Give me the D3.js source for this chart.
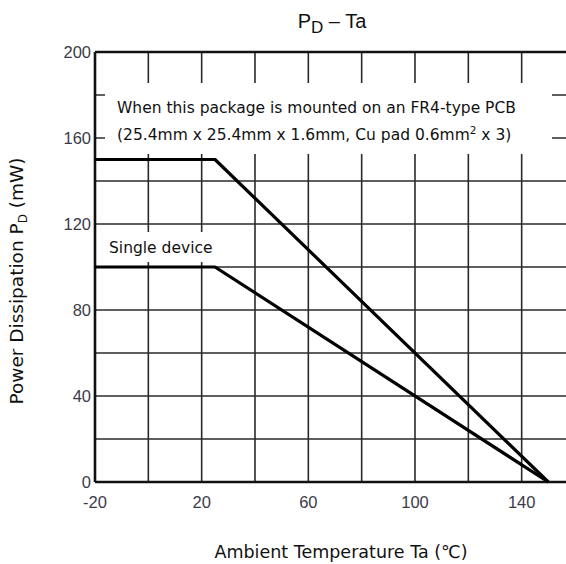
<!DOCTYPE html>
<html>
<head>
<meta charset="utf-8">
<script src="https://cdn.jsdelivr.net/npm/d3@7"></script>
<style>
  html, body { margin: 0; padding: 0; background: #fff; }
  svg { display: block; }
</style>
</head>
<body>
<svg id="chart" width="566" height="564"></svg>
<script>
// ---- data ----
const temps = [-20, 25, 150];
const pcbPower = [150, 150, 0];
const singlePower = [100, 100, 0];
const xTickLabels = [-20, 20, 60, 100, 140];
const yTickLabels = [0, 40, 80, 120, 160, 200];
const xGrid = [-20, 0, 20, 40, 60, 80, 100, 120, 140, 160];
const yGrid = [0, 20, 40, 60, 80, 100, 120, 140, 160, 180, 200];
const titleMain = "P";
const titleSub = "D";
const titleRest = " \u2013 Ta";
const pcbNote = ["When this package is mounted on an FR4-type PCB", "(25.4mm x 25.4mm x 1.6mm, Cu pad 0.6mm", "2", " x 3)"];
const singleNote = "Single device";

const svg = d3.select("#chart");
const x = d3.scaleLinear().domain([-20, 160]).range([95, 575]);
const y = d3.scaleLinear().domain([0, 200]).range([482, 52]);

// grid
const g = svg.append("g");
g.selectAll(".vg").data(xGrid).join("line")
  .attr("x1", d => x(d)).attr("x2", d => x(d))
  .attr("y1", y(0)).attr("y2", y(200))
  .attr("stroke", "#2a2a2a").attr("stroke-width", 1.6);
g.selectAll(".hg").data(yGrid).join("line")
  .attr("x1", x(-20)).attr("x2", 575)
  .attr("y1", d => y(d)).attr("y2", d => y(d))
  .attr("stroke", "#2a2a2a").attr("stroke-width", 1.6);

// white boxes behind notes
svg.append("rect").attr("x", 105).attr("y", 83).attr("width", 447).attr("height", 71).attr("fill", "#fff");
svg.append("rect").attr("x", 97).attr("y", 232).attr("width", 116).attr("height", 30).attr("fill", "#fff");

// frame
svg.append("line").attr("x1", x(-20)).attr("x2", 575).attr("y1", y(200)).attr("y2", y(200)).attr("stroke", "#111").attr("stroke-width", 2.6);
svg.append("line").attr("x1", x(-20)).attr("x2", 575).attr("y1", y(0)).attr("y2", y(0)).attr("stroke", "#111").attr("stroke-width", 2.6);
svg.append("line").attr("x1", x(-20)).attr("x2", x(-20)).attr("y1", y(0)).attr("y2", y(200)).attr("stroke", "#111").attr("stroke-width", 2.6);

// curves
const line = d3.line().x(d => x(d[0])).y(d => y(d[1]));
[pcbPower, singlePower].forEach(series => {
  svg.append("path")
    .datum(temps.map((t, i) => [t, series[i]]))
    .attr("d", line)
    .attr("fill", "none").attr("stroke", "#000").attr("stroke-width", 3.2)
    .attr("stroke-linejoin", "round");
});

// tick labels
const tickColor = "#3b3b48";
svg.selectAll(".xt").data(xTickLabels).join("text")
  .attr("x", d => x(d)).attr("y", 508)
  .attr("text-anchor", "middle")
  .attr("font-family", "Liberation Sans, Arial, sans-serif").attr("font-size", 16.5)
  .attr("fill", tickColor)
  .text(d => d);
svg.selectAll(".yt").data(yTickLabels).join("text")
  .attr("x", 91).attr("y", d => y(d) + 6)
  .attr("text-anchor", "end")
  .attr("font-family", "Liberation Sans, Arial, sans-serif").attr("font-size", 16.5)
  .attr("fill", tickColor)
  .text(d => d);

// title
const t = svg.append("text").attr("x", 332).attr("y", 28)
  .attr("text-anchor", "middle")
  .attr("font-family", "Liberation Sans, Arial, sans-serif").attr("font-size", 20).attr("fill", "#111");
t.append("tspan").text(titleMain);
t.append("tspan").attr("dy", 5).attr("font-size", 17).text(titleSub);
t.append("tspan").attr("dy", -5).text(titleRest);

// notes
const noteFont = "DejaVu Sans, Verdana, sans-serif";
svg.append("text").attr("x", 117).attr("y", 113)
  .attr("font-family", noteFont).attr("font-size", 15.5).attr("fill", "#111")
  .text(pcbNote[0]);
const n2 = svg.append("text").attr("x", 117).attr("y", 140)
  .attr("font-family", noteFont).attr("font-size", 15.5).attr("fill", "#111");
n2.append("tspan").text(pcbNote[1]);
n2.append("tspan").attr("dy", -6).attr("font-size", 10.5).text(pcbNote[2]);
n2.append("tspan").attr("dy", 6).text(pcbNote[3]);

svg.append("text").attr("x", 109).attr("y", 253)
  .attr("font-family", noteFont).attr("font-size", 15.5).attr("fill", "#111")
  .text(singleNote);

// axis titles
svg.append("text").attr("x", 341).attr("y", 558)
  .attr("text-anchor", "middle")
  .attr("font-family", noteFont).attr("font-size", 17.5).attr("fill", "#111")
  .text("Ambient Temperature Ta (\u2103)");

const yl = svg.append("text")
  .attr("transform", "translate(23,281) rotate(-90)")
  .attr("text-anchor", "middle")
  .attr("font-family", noteFont).attr("font-size", 18.5).attr("fill", "#111");
yl.append("tspan").text("Power Dissipation P");
yl.append("tspan").attr("dy", 4).attr("font-size", 12).text("D");
yl.append("tspan").attr("dy", -4).text(" (mW)");
</script>
</body>
</html>
